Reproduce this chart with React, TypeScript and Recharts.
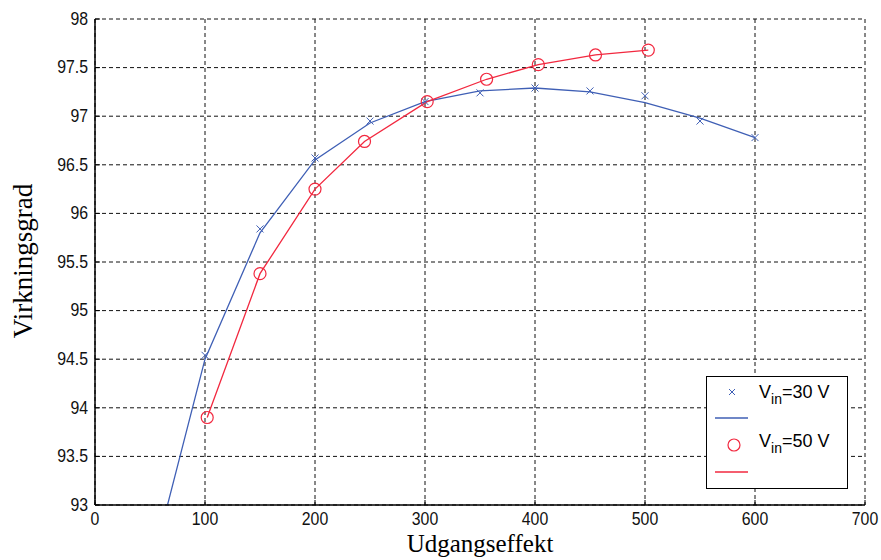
import React from 'react';
import { LineChart, Line, XAxis, YAxis, CartesianGrid } from 'recharts';

// Fitted curve, Vin = 30 V
const fit30X = [50, 100, 150, 200, 250, 300, 350, 400, 450, 500, 550, 600];
const fit30Y = [92.3, 94.5, 95.8, 96.55, 96.93, 97.15, 97.26, 97.29, 97.25, 97.14, 96.98, 96.78];
// Measured points, Vin = 30 V
const meas30X = [100, 150, 200, 250, 300, 350, 400, 450, 500, 550, 600];
const meas30Y = [94.54, 95.84, 96.57, 96.95, 97.15, 97.24, 97.29, 97.26, 97.21, 96.95, 96.78];
// Measured points, Vin = 50 V
const meas50X = [102, 150, 200, 245, 302, 356, 403, 455, 503];
const meas50Y = [93.9, 95.38, 96.25, 96.74, 97.15, 97.38, 97.53, 97.63, 97.68];

const xTicks = [0, 100, 200, 300, 400, 500, 600, 700];
const yTicks = [93, 93.5, 94, 94.5, 95, 95.5, 96, 96.5, 97, 97.5, 98];

const BLUE = '#3f5fb5';
const RED = '#f2283f';
const TICK_FONT = '"Liberation Sans", Arial, sans-serif';
const SERIF = '"Liberation Serif", "Times New Roman", serif';

const fit30 = fit30X.map((x, i) => ({ x, y: fit30Y[i] }));
const m30 = meas30X.map((x, i) => ({ x, y: meas30Y[i] }));
const m50 = meas50X.map((x, i) => ({ x, y: meas50Y[i] }));

const CrossDot = (props: any) => {
  const { cx, cy } = props;
  if (cx == null || cy == null) return null;
  const s = 3.5;
  return (
    <g>
      <line x1={cx - s} y1={cy - s} x2={cx + s} y2={cy + s} stroke={BLUE} strokeWidth={1} />
      <line x1={cx - s} y1={cy + s} x2={cx + s} y2={cy - s} stroke={BLUE} strokeWidth={1} />
    </g>
  );
};

const CircleDot = (props: any) => {
  const { cx, cy } = props;
  if (cx == null || cy == null) return null;
  return <circle cx={cx} cy={cy} r={6} fill="none" stroke={RED} strokeWidth={1.2} />;
};

const XTick = (props: any) => {
  const { x, y, payload } = props;
  return (
    <text
      x={0}
      y={0}
      transform={`translate(${x},${y}) scale(0.88,1)`}
      textAnchor="middle"
      dominantBaseline="hanging"
      fontFamily={TICK_FONT}
      fontSize={18}
      fill="#111"
    >
      {payload.value}
    </text>
  );
};

const YTick = (props: any) => {
  const { x, y, payload } = props;
  return (
    <text
      x={0}
      y={0}
      transform={`translate(${x},${y}) scale(0.88,1)`}
      textAnchor="end"
      dominantBaseline="central"
      fontFamily={TICK_FONT}
      fontSize={18}
      fill="#111"
    >
      {payload.value}
    </text>
  );
};

const LegendBox = () => (
  <div
    style={{
      position: 'absolute',
      left: 706,
      top: 376,
      width: 142,
      height: 113,
      border: '1.5px solid #000',
      background: '#fff',
      boxSizing: 'border-box',
    }}
  >
    <svg width={140} height={111} style={{ display: 'block' }}>
      <g transform="translate(-1,-1)">
        <line x1={23} y1={13} x2={29} y2={19} stroke={BLUE} />
        <line x1={23} y1={19} x2={29} y2={13} stroke={BLUE} />
        <text x={53} y={22} fontFamily={TICK_FONT} fontSize={18} fill="#000">
          V<tspan fontSize={14} dy={6}>in</tspan><tspan dy={-6}>=30 V</tspan>
        </text>
        <line x1={9} y1={42} x2={42} y2={42} stroke={BLUE} strokeWidth={1.5} />
        <circle cx={28} cy={69} r={6} fill="none" stroke={RED} strokeWidth={1.2} />
        <text x={53} y={71} fontFamily={TICK_FONT} fontSize={18} fill="#000">
          V<tspan fontSize={14} dy={6}>in</tspan><tspan dy={-6}>=50 V</tspan>
        </text>
        <line x1={9} y1={96} x2={42} y2={96} stroke={RED} strokeWidth={1.5} />
      </g>
    </svg>
  </div>
);

export default function App() {
  return (
    <div style={{ position: 'absolute', left: 0, top: 0, width: 881, height: 560, background: '#fff' }}>
      <LineChart width={881} height={560} margin={{ top: 19, right: 16, left: 0, bottom: 0 }}>
        <CartesianGrid xAxisId="b" yAxisId="l" stroke="#111" strokeDasharray="4 3" strokeWidth={1} />
        <XAxis
          xAxisId="b"
          type="number"
          dataKey="x"
          domain={[0, 700]}
          ticks={xTicks}
          height={55}
          tickSize={-5}
          tickMargin={12}
          axisLine={{ stroke: '#000', strokeWidth: 1.5 }}
          tickLine={{ stroke: '#000' }}
          tick={<XTick />}
          label={{
            value: 'Udgangseffekt',
            position: 'insideBottom',
            content: () => (
              <text x={480} y={552} textAnchor="middle" fontFamily={SERIF} fontSize={25} fill="#000">
                Udgangseffekt
              </text>
            ),
          }}
          allowDataOverflow
        />
        <XAxis
          xAxisId="t"
          orientation="top"
          type="number"
          dataKey="x"
          domain={[0, 700]}
          ticks={xTicks}
          height={0}
          tickSize={-5}
          tick={false}
          axisLine={{ stroke: '#000', strokeWidth: 1.5 }}
          tickLine={{ stroke: '#000' }}
        />
        <YAxis
          yAxisId="l"
          type="number"
          domain={[93, 98]}
          ticks={yTicks}
          width={95}
          tickSize={-5}
          tickMargin={12}
          axisLine={{ stroke: '#000', strokeWidth: 1.5 }}
          tickLine={{ stroke: '#000' }}
          tick={<YTick />}
          allowDataOverflow
          label={{
            value: 'Virkningsgrad',
            position: 'insideLeft',
            content: () => (
              <text
                x={23}
                y={261}
                transform="rotate(-90 23 261)"
                textAnchor="middle"
                dominantBaseline="central"
                fontFamily={SERIF}
                fontSize={27}
                fill="#000"
              >
                Virkningsgrad
              </text>
            ),
          }}
        />
        <YAxis
          yAxisId="r"
          orientation="right"
          type="number"
          domain={[93, 98]}
          ticks={yTicks}
          width={0}
          tickSize={-5}
          tick={false}
          axisLine={{ stroke: '#000', strokeWidth: 1.5 }}
          tickLine={{ stroke: '#000' }}
        />
        <Line
          xAxisId="b"
          yAxisId="l"
          data={fit30}
          dataKey="y"
          type="linear"
          stroke={BLUE}
          strokeWidth={1.3}
          dot={false}
          activeDot={false}
          isAnimationActive={false}
        />
        <Line
          xAxisId="b"
          yAxisId="l"
          data={m30}
          dataKey="y"
          stroke="none"
          dot={<CrossDot />}
          activeDot={false}
          isAnimationActive={false}
        />
        <Line
          xAxisId="b"
          yAxisId="l"
          data={m50}
          dataKey="y"
          type="linear"
          stroke={RED}
          strokeWidth={1.3}
          dot={<CircleDot />}
          activeDot={false}
          isAnimationActive={false}
        />
      </LineChart>
      <LegendBox />
    </div>
  );
}
